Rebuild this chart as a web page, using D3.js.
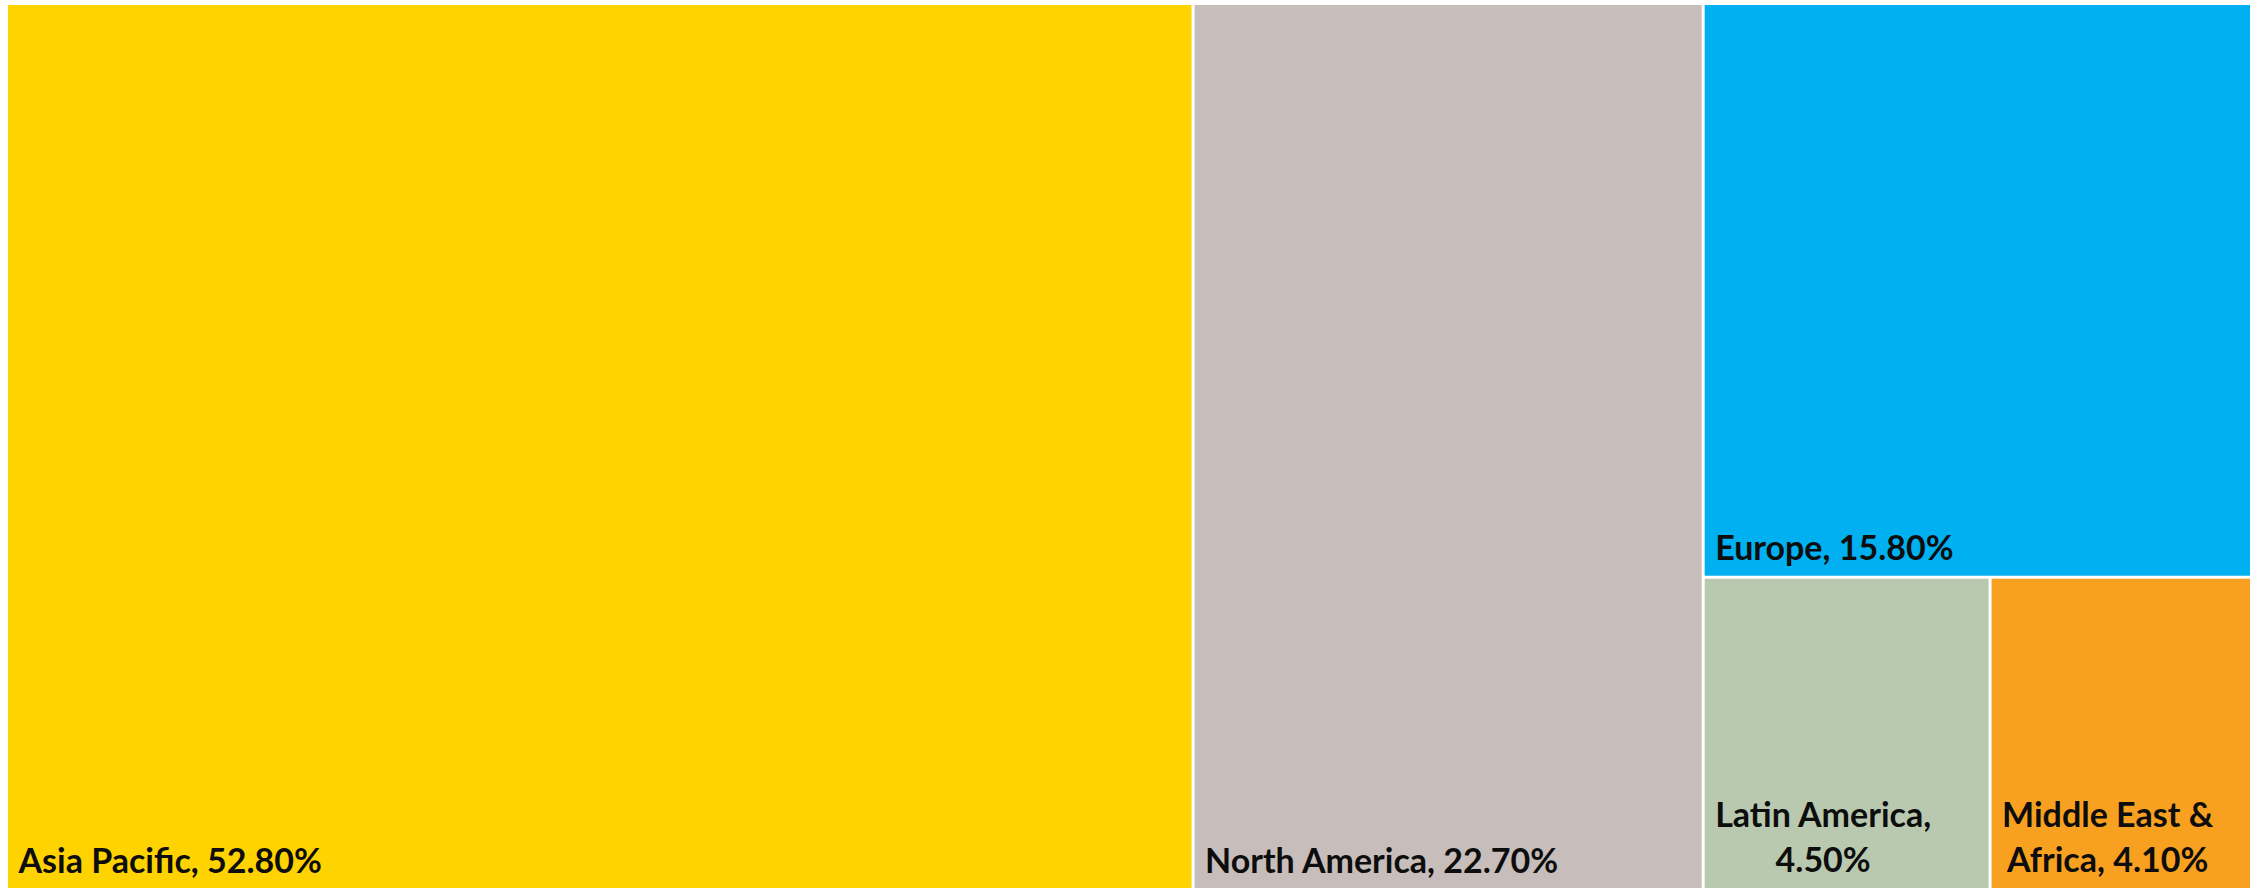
<!DOCTYPE html>
<html>
<head>
<meta charset="utf-8">
<script src="https://cdn.jsdelivr.net/npm/d3@7"></script>
<style>
  html, body { margin: 0; padding: 0; background: #ffffff; }
  svg { display: block; }
</style>
</head>
<body>
<svg id="chart" width="2257" height="888"></svg>
<script>
const regions = ["Asia Pacific", "North America", "Europe", "Latin America", "Middle East & Africa"];
const shares = [52.8, 22.7, 15.8, 4.5, 4.1];
const colors = ["#FFD300", "#C7BDBA", "#00B0F0", "#B8C9AF", "#F8A020"];

const W = 2257, H = 888;
const svg = d3.select("#chart");

const root = d3.hierarchy({
  children: regions.map((r, i) => ({ name: r, value: shares[i], color: colors[i] }))
}).sum(d => d.value || 0);

d3.treemap()
  .tile(d3.treemapSquarify.ratio(1))
  .size([2245, 886])
  .round(false)(root);

const offX = 6.5, offY = 3.5, gap = 1.5;
const pad = 12, bottomPad = 17, lineH = 45;

const cells = svg.selectAll("g.cell")
  .data(root.leaves())
  .join("g")
  .attr("class", "cell")
  .attr("transform", d => `translate(${d.x0 + offX},${d.y0 + offY})`);

cells.append("rect")
  .attr("x", gap)
  .attr("y", gap)
  .attr("width", d => d.x1 - d.x0 - 2 * gap)
  .attr("height", d => d.y1 - d.y0 - 2 * gap)
  .attr("fill", d => d.data.color);

cells.each(function(d) {
  const g = d3.select(this);
  const label = `${d.data.name}, ${d.data.value.toFixed(2)}%`;
  const maxW = (d.x1 - d.x0) - 2 * pad;
  const words = label.split(" ");
  const t = g.append("text")
    .attr("font-family", "Lato, 'Open Sans', sans-serif")
    .attr("font-weight", "bold")
    .attr("font-size", 34)
    .attr("fill", "#0d0d0d");
  const lines = [];
  let cur = "";
  const probe = t.append("tspan");
  words.forEach(w => {
    const test = cur ? cur + " " + w : w;
    probe.text(test);
    if (probe.node().getComputedTextLength() > maxW && cur) {
      lines.push(cur);
      cur = w;
    } else {
      cur = test;
    }
  });
  if (cur) lines.push(cur);
  const widths = lines.map(l => { probe.text(l); return probe.node().getComputedTextLength(); });
  probe.remove();
  const blockW = d3.max(widths);
  const h = d.y1 - d.y0;
  const n = lines.length;
  const multi = n > 1;
  lines.forEach((l, i) => {
    t.append("tspan")
      .attr("x", multi ? pad + blockW / 2 : pad)
      .attr("text-anchor", multi ? "middle" : "start")
      .attr("y", h - bottomPad - (n - 1 - i) * lineH)
      .text(l);
  });
});
</script>
</body>
</html>
